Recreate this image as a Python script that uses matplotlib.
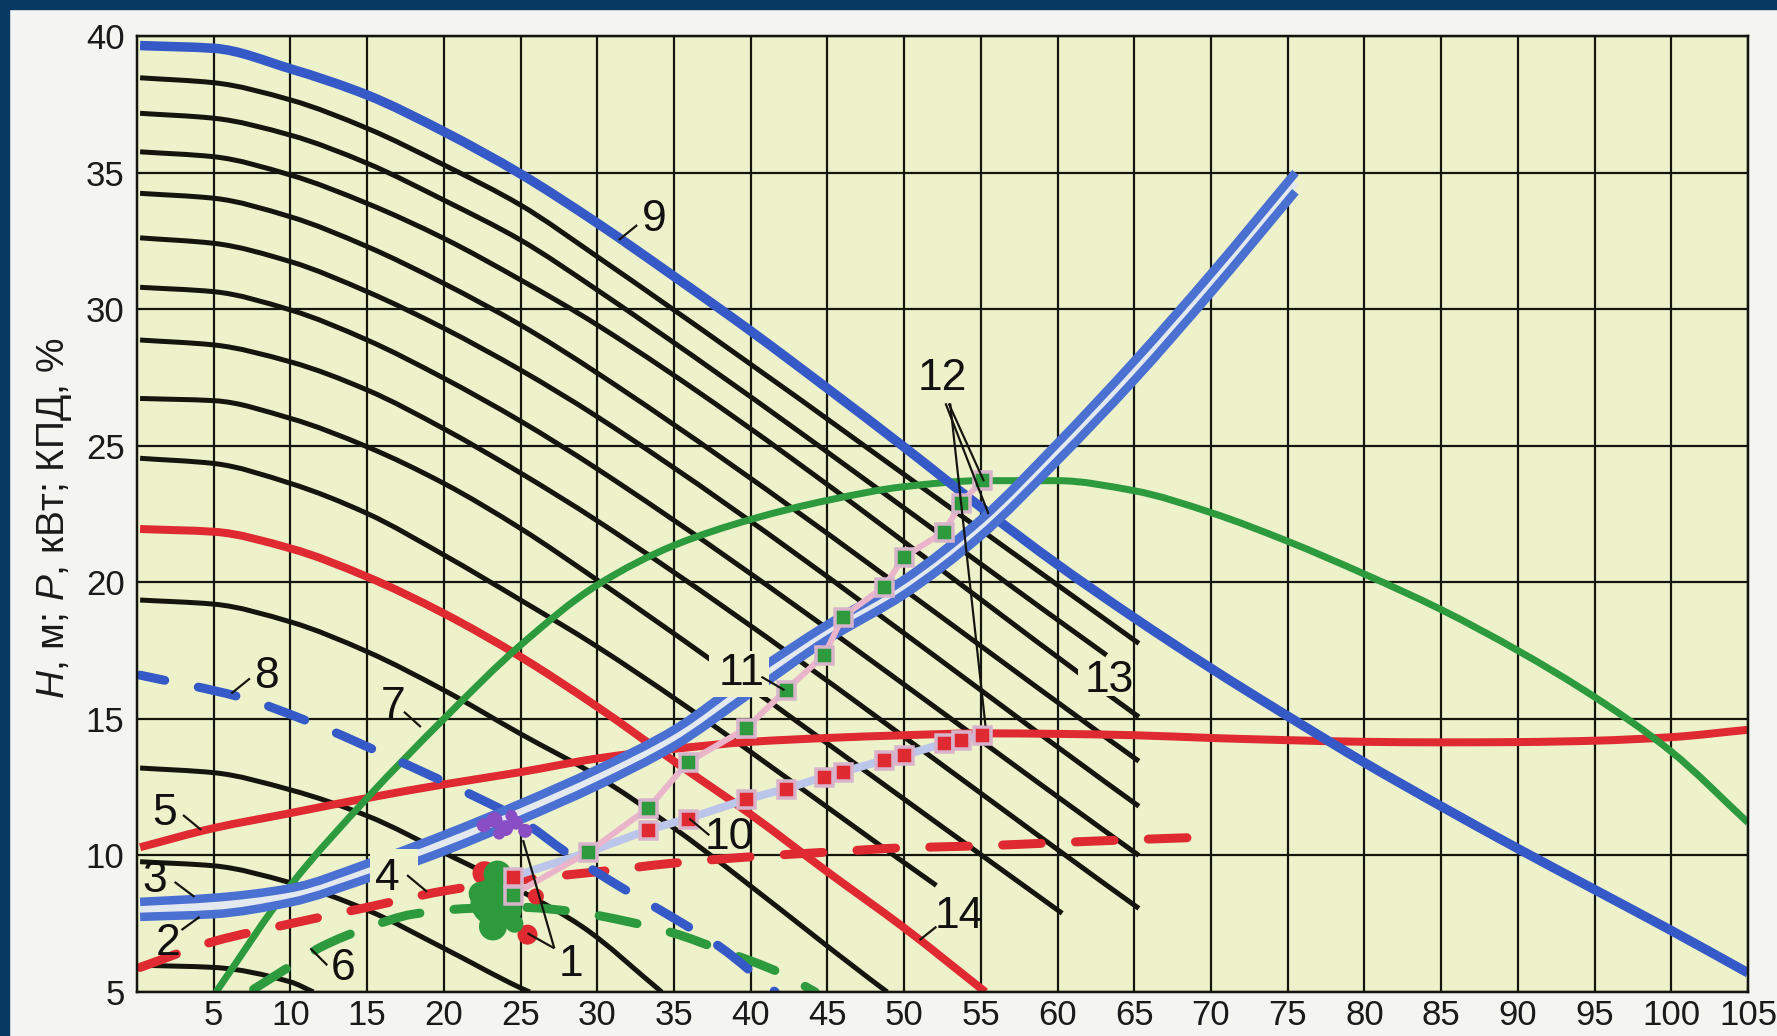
import matplotlib
matplotlib.use("Agg")
import matplotlib.pyplot as plt
from matplotlib import font_manager
from matplotlib.patches import Rectangle, PathPatch
from matplotlib.path import Path

# ---------------------------------------------------------------- fonts
_names = {f.name for f in font_manager.fontManager.ttflist}
NARROW = "Liberation Sans Narrow" if "Liberation Sans Narrow" in _names else "Liberation Sans"
plt.rcParams["font.family"] = [NARROW, "DejaVu Sans"]
plt.rcParams["mathtext.fontset"] = "custom"
plt.rcParams["mathtext.it"] = "Liberation Sans:italic"
plt.rcParams["mathtext.rm"] = "Liberation Sans"

# ---------------------------------------------------------------- axis ticks
x_ticks = [5, 10, 15, 20, 25, 30, 35, 40, 45, 50, 55, 60, 65, 70, 75, 80, 85, 90, 95, 100, 105]
y_ticks = [5, 10, 15, 20, 25, 30, 35, 40]

# ---------------------------------------------------------------- 9: head curve, highest speed
h9_q = [0.2, 5, 10, 15, 20, 25, 30, 35, 40, 45, 50, 55, 60, 65, 70, 75, 80, 85, 90, 95, 100, 105]
h9_h = [39.65, 39.55, 38.8, 37.84, 36.5, 34.95, 33.15, 31.2, 29.2, 27.1, 24.95, 22.75,
        20.65, 18.7, 16.85, 15.1, 13.4, 11.8, 10.25, 8.75, 7.25, 5.7]

# ---------------------------------------------------------------- black head curves at reduced speeds
hq_base = [0.2, 5, 10, 15, 20, 25, 30]
head_b1 = [38.47, 38.29, 37.66, 36.62, 35.28, 33.81, 31.92]
head_b2 = [37.17, 36.99, 36.37, 35.34, 33.99, 32.53, 30.70]
head_b3 = [35.76, 35.58, 34.91, 33.87, 32.59, 31.07, 29.42]
head_b4 = [34.24, 34.06, 33.38, 32.29, 30.94, 29.42, 27.66]
head_b5 = [32.61, 32.41, 31.74, 30.64, 29.30, 27.77, 26.06]
head_b6 = [30.80, 30.64, 29.97, 28.87, 27.47, 25.90, 24.15]
head_b7 = [28.87, 28.69, 28.07, 27.04, 25.62, 24.00, 22.25]
head_b8 = [26.73, 26.65, 26.00, 24.96, 23.62, 21.97, 20.08]
head_b9 = [24.54, 24.35, 23.62, 22.52, 21.00, 19.35, 17.64]
head_b10 = [19.35, 19.20, 18.55, 17.46, 16.05, 14.45, 12.90]
# end points of the black curves (flow, head)
end_b1 = (65.3, 17.76)
end_b2 = (63.2, 17.33)
end_b3 = (65.3, 15.07)
end_b4 = (65.3, 13.45)
end_b5 = (65.3, 11.80)
end_b6 = (65.3, 10.00)
end_b7 = (65.3, 8.06)
end_b8 = (60.3, 7.88)
end_b9 = (52.1, 8.90)
end_b10 = (48.9, 5.00)
# lower black curves
b11_q = [0.2, 5, 10, 15, 20, 25, 29, 34.2]
b11_h = [13.2, 13.03, 12.4, 11.45, 10.1, 8.7, 7.4, 5.0]
b12_q = [0.2, 5, 10, 15, 20, 25, 25.6]
b12_h = [9.77, 9.62, 9.0, 8.0, 6.6, 5.15, 5.0]
b13_q = [0.2, 5, 10, 11.5]
b13_h = [5.98, 5.9, 5.37, 5.0]

# ---------------------------------------------------------------- 14: red head curve
h14_q = [0.2, 5, 10, 15, 20, 25, 30, 35, 40, 45, 50, 55.3]
h14_h = [21.95, 21.85, 21.24, 20.2, 18.86, 17.27, 15.44, 13.45, 11.5, 9.4, 7.35, 5.0]

# ---------------------------------------------------------------- 8: blue dashed head curve
h8_q = [0.2, 6.7, 11.5, 16.5, 21.5, 25, 28, 31.5, 35, 38, 41.6]
h8_h = [16.6, 15.8, 14.83, 13.6, 12.3, 11.3, 10.1, 8.85, 7.7, 6.65, 5.0]

# ---------------------------------------------------------------- 7: efficiency, %
eff_q = [5.15, 10, 15, 20, 25, 30, 35, 40, 45, 50, 55, 60, 65, 70, 75, 80, 85, 90, 95, 100, 105]
eff = [5.0, 8.9, 12.1, 15.0, 17.7, 19.9, 21.35, 22.3, 23.0, 23.5, 23.72, 23.72, 23.35,
       22.55, 21.5, 20.3, 19.0, 17.5, 15.8, 13.8, 11.2]

# ---------------------------------------------------------------- 5: power, kW
pow_q = [0.2, 5, 10, 15, 20, 25, 30, 35, 40, 45, 50, 55, 60, 65, 70, 75, 80, 85, 90, 95, 100, 105]
pow_p = [10.3, 11.0, 11.55, 12.1, 12.6, 13.05, 13.55, 13.9, 14.16, 14.3, 14.4, 14.47, 14.45,
         14.4, 14.3, 14.22, 14.16, 14.14, 14.15, 14.2, 14.33, 14.6]

# ---------------------------------------------------------------- 4: red dashed, 6: green dashed
d4_q = [0.2, 5, 10, 15, 20, 25, 30, 35, 40, 45, 50, 55, 60, 65, 70.2]
d4_h = [5.9, 6.85, 7.5, 8.1, 8.7, 9.1, 9.4, 9.72, 9.95, 10.12, 10.28, 10.35, 10.47, 10.58, 10.68]
d6_q = [7.6, 10, 12, 15, 18, 21.7, 25, 28.5, 31.8, 35, 38, 42, 44.2]
d6_h = [5.1, 5.95, 6.65, 7.35, 7.85, 8.06, 8.1, 7.94, 7.6, 7.15, 6.55, 5.68, 5.0]

# ---------------------------------------------------------------- 3/2 and 11: network curves (double line)
net_q = [0.2, 5, 10, 15, 20, 25, 30, 35, 40, 45, 50, 55, 60, 65, 70, 75.5]
net_upper = [8.3, 8.45, 8.8, 9.7, 10.75, 11.9, 13.15, 14.6, 16.6, 18.45, 20.1, 22.3, 25.1, 28.1, 31.3, 35.0]
net_lower = [7.75, 7.85, 8.28, 9.15, 10.15, 11.3, 12.55, 14.0, 15.95, 17.9, 19.55, 21.7, 24.45, 27.4, 30.6, 34.3]

# ---------------------------------------------------------------- 10 and 12: operating points
op_q = [24.5, 29.4, 33.3, 35.9, 39.7, 42.3, 44.8, 46.0, 48.7, 50.0, 52.6, 53.7, 55.1]
op_head = [8.56, 10.12, 11.72, 13.41, 14.65, 16.06, 17.33, 18.74, 19.84, 20.93, 21.85, 22.89, 23.74]
op_pow_q = [24.5, 29.4, 33.3, 35.9, 39.7, 42.3, 44.8, 46.0, 48.7, 50.0, 52.6, 53.7, 55.1]
op_pow = [9.22, 10.12, 10.93, 11.35, 12.05, 12.44, 12.88, 13.06, 13.49, 13.67, 14.1, 14.24, 14.4]
op_pow_marked = [True, False, True, True, True, True, True, True, True, True, True, True, True]

# ---------------------------------------------------------------- 1: measured point cloud
cloud_green_q = [23.3, 23.5, 23.2, 24.3, 22.4, 24.6]
cloud_green_h = [8.3, 9.3, 7.4, 8.0, 8.6, 7.5]
cloud_green_r = [24, 14, 14, 12, 12, 9]
cloud_red_q = [22.65, 25.45, 26.0]
cloud_red_h = [9.35, 7.1, 8.5]
cloud_red_r = [12, 10, 8]
cloud_violet_q = [22.6, 23.3, 24.0, 24.7, 25.3, 23.6, 24.4]
cloud_violet_h = [11.1, 11.3, 11.0, 11.2, 10.9, 10.8, 11.45]
cloud_violet_r = [7, 8, 8, 7, 7, 6, 6]

# ---------------------------------------------------------------- callouts: text position and leader lines
callouts = {
    "1": (28.3, 6.0), "2": (2.05, 6.78), "3": (1.15, 9.1), "4": (16.3, 9.16),
    "5": (1.8, 11.54), "6": (13.45, 5.86), "7": (16.7, 15.44), "8": (8.44, 16.54),
    "9": (33.7, 33.3), "10": (38.6, 10.65), "11": (39.4, 16.67), "12": (52.5, 27.47),
    "13": (63.4, 16.42), "14": (53.6, 7.75),
}
leaders = [
    ((27.2, 6.6), (25.16, 10.56)), ((27.2, 6.6), (25.45, 7.15)),
    ((2.9, 7.27), (4.08, 7.75)), ((2.45, 9.03), (3.75, 8.48)),
    ((17.6, 9.28), (18.9, 8.67)), ((3.0, 11.48), (4.19, 10.93)),
    ((11.3, 6.6), (12.4, 5.98)), ((17.4, 15.26), (18.5, 14.7)),
    ((6.15, 15.93), (7.36, 16.48)), ((31.4, 32.53), (32.6, 33.08)),
    ((36.0, 11.35), (37.3, 10.74)), ((40.7, 16.54), (42.2, 16.05)),
    ((52.7, 26.55), (55.5, 22.5)), ((52.9, 26.55), (55.2, 23.7)),
    ((53.0, 26.55), (55.3, 14.75)), ((51.0, 6.9), (52.1, 7.39)),
]
# blank areas left around some callouts
knockouts = [(15.2, 8.95, 3.1, 1.3), (37.3, 15.8, 3.9, 1.7), (61.3, 15.85, 3.6, 1.3)]

# ---------------------------------------------------------------- style
PAGE = "#f4f5f1"
NAVY = "#073a63"
PAPER = "#edf2cb"
BLACK = "#151510"
BLUE = "#3559c6"
BLUE2 = "#4a70d2"
GAP = "#e3e9ee"
RED = "#de2a30"
GREEN = "#2e9a3e"
LILAC = "#bcc5ea"
PINK = "#eab5cb"
EDGE = "#d8b4cc"
VIOLET = "#8a4ec4"


def pt(px):
    return px * 0.72


def smooth(ax, xs, ys, color, lw, z, ls="-", cap="butt"):
    """Draw a smooth monotone cubic Bezier path through the given points."""
    n = len(xs)
    hs = [xs[i + 1] - xs[i] for i in range(n - 1)]
    d = [(ys[i + 1] - ys[i]) / hs[i] for i in range(n - 1)]
    m = [0.0] * n
    m[0], m[-1] = d[0], d[-1]
    for i in range(1, n - 1):
        if d[i - 1] * d[i] <= 0:
            m[i] = 0.0
        else:
            w1 = 2 * hs[i] + hs[i - 1]
            w2 = hs[i] + 2 * hs[i - 1]
            m[i] = (w1 + w2) / (w1 / d[i - 1] + w2 / d[i])
    verts = [(xs[0], ys[0])]
    codes = [Path.MOVETO]
    for i in range(n - 1):
        h = hs[i]
        verts += [(xs[i] + h / 3, ys[i] + m[i] * h / 3),
                  (xs[i + 1] - h / 3, ys[i + 1] - m[i + 1] * h / 3),
                  (xs[i + 1], ys[i + 1])]
        codes += [Path.CURVE4] * 3
    p = PathPatch(Path(verts, codes), fill=False, edgecolor=color, lw=lw, ls=ls,
                  zorder=z, joinstyle="round", capstyle=cap)
    ax.add_patch(p)


W, H = 1777, 1036
fig = plt.figure(figsize=(W / 100, H / 100), dpi=100, facecolor=PAGE)
fig.patches.append(Rectangle((0, 1 - 9 / H), 1, 9 / H, transform=fig.transFigure,
                             color=NAVY, zorder=0))
fig.patches.append(Rectangle((0, 0), 9 / W, 1, transform=fig.transFigure,
                             color=NAVY, zorder=0))

L, R, T, B = 137, 1748, 36, 992
ax = fig.add_axes([L / W, 1 - B / H, (R - L) / W, (B - T) / H])
ax.set_facecolor(PAPER)
ax.set_xlim(0, 105)
ax.set_ylim(5, 40)
ax.set_xticks(x_ticks)
ax.set_yticks(y_ticks)
ax.tick_params(length=0, labelsize=25, colors="#1a1a1a")
ax.tick_params(axis="x", pad=5)
ax.tick_params(axis="y", pad=9)
ax.grid(True, color=BLACK, lw=pt(2.2), zorder=1)
ax.set_axisbelow(True)
for s in ax.spines.values():
    s.set_color(BLACK)
    s.set_linewidth(pt(2.5))
    s.set_zorder(12)

# black head curves
uppers = [(head_b1, end_b1), (head_b2, end_b2), (head_b3, end_b3), (head_b4, end_b4),
          (head_b5, end_b5), (head_b6, end_b6), (head_b7, end_b7), (head_b8, end_b8),
          (head_b9, end_b9), (head_b10, end_b10)]
for hh, (qe, he) in uppers:
    smooth(ax, hq_base + [qe], hh + [he], BLACK, pt(5), 3)
for qq, hh in [(b11_q, b11_h), (b12_q, b12_h), (b13_q, b13_h)]:
    smooth(ax, qq, hh, BLACK, pt(5), 3)

# red head curve 14 and power curve 5
smooth(ax, h14_q, h14_h, RED, pt(8), 4)
smooth(ax, pow_q, pow_p, RED, pt(8), 4)

# efficiency 7
smooth(ax, eff_q, eff, GREEN, pt(7), 4)

# dashed curves
dash = (0, (4.3, 3.8))
smooth(ax, d4_q, d4_h, RED, pt(9), 4, ls=dash, cap="round")
smooth(ax, d6_q, d6_h, GREEN, pt(9), 4, ls=dash, cap="round")
smooth(ax, h8_q, h8_h, BLUE, pt(9), 4, ls=(1.5, (4.3, 3.8)), cap="round")

# top head curve 9
smooth(ax, h9_q, h9_h, BLUE, pt(9.5), 5)

# network double line: pale core between two blue strokes
mid = [(a + b) / 2 for a, b in zip(net_upper, net_lower)]
smooth(ax, net_q, mid, GAP, pt(8), 5)
smooth(ax, net_q, net_upper, BLUE2, pt(8.5), 5)
smooth(ax, net_q, net_lower, BLUE2, pt(8.5), 5)

# measured cloud
ax.scatter(cloud_violet_q, cloud_violet_h, s=[(2 * r * 0.72) ** 2 for r in cloud_violet_r],
           color=VIOLET, lw=0, zorder=6)
ax.scatter(cloud_red_q, cloud_red_h, s=[(2 * r * 0.72) ** 2 for r in cloud_red_r],
           color=RED, lw=0, zorder=6)
ax.scatter(cloud_green_q, cloud_green_h, s=[(2 * r * 0.72) ** 2 for r in cloud_green_r],
           color=GREEN, lw=0, zorder=6)

# operating point lines with square markers
ax.plot(op_pow_q, op_pow, color=LILAC, lw=pt(8), zorder=7, solid_joinstyle="round")
ax.plot(op_q, op_head, color=PINK, lw=pt(6), zorder=7, solid_joinstyle="round")
mq = [q for q, m in zip(op_pow_q, op_pow_marked) if m]
mp = [p for p, m in zip(op_pow, op_pow_marked) if m]
ax.plot(mq, mp, ls="none", marker="s", ms=pt(17), mfc=RED, mec=EDGE, mew=pt(3.5), zorder=8)
ax.plot(op_q, op_head, ls="none", marker="s", ms=pt(17), mfc=GREEN, mec=EDGE, mew=pt(3.5), zorder=8)

# blank areas around callouts
for (x0, y0, w, h) in knockouts:
    ax.add_patch(Rectangle((x0, y0), w, h, facecolor=PAPER, edgecolor="none", zorder=9))

# callouts
for (a, b) in leaders:
    ax.plot([a[0], b[0]], [a[1], b[1]], color=BLACK, lw=pt(2.2), zorder=10,
            solid_capstyle="butt")
for s, (x, y) in callouts.items():
    ax.text(x, y, s, fontsize=32, ha="center", va="center", color="#111111", zorder=11)

fig.text(55 / W, 1 - 518 / H, r"$H$, м; $P$, кВт; КПД, %", rotation=90, ha="center",
         va="center", fontsize=28, family=["Liberation Sans", "DejaVu Sans"], color="#1a1a1a")

fig.savefig("out.png", dpi=100, facecolor=PAGE)
